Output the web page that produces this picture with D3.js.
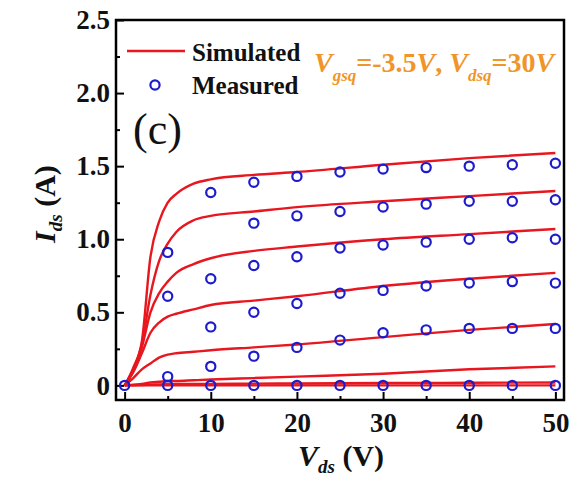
<!DOCTYPE html>
<html>
<head>
<meta charset="utf-8">
<script src="https://cdn.jsdelivr.net/npm/d3@7"></script>
<style>
  html, body { margin: 0; padding: 0; background: #fff; }
  svg { display: block; font-family: "Liberation Serif", "Times New Roman", serif; }
</style>
</head>
<body>
<svg id="chart" width="579" height="478"></svg>
<script>
// measured points, Vds = 0..50 step 5 (null = hidden / not readable)
const vdsMeas = [0, 5, 10, 15, 20, 25, 30, 35, 40, 45, 50];
const meas1 = [0, 0.91, 1.32, 1.39, 1.43, 1.46, 1.48, 1.49, 1.50, 1.51, 1.52];
const meas2 = [null, null, null, 1.11, 1.16, 1.19, 1.22, 1.24, 1.26, 1.26, 1.27];
const meas3 = [null, 0.61, 0.73, 0.82, 0.88, 0.94, 0.96, 0.98, 1.00, 1.01, 1.00];
const meas4 = [null, null, 0.40, 0.50, 0.56, 0.63, 0.65, 0.68, 0.70, 0.71, 0.70];
const meas5 = [null, 0.06, 0.13, 0.20, 0.26, 0.31, 0.36, 0.38, 0.39, 0.39, 0.39];
const meas6 = [null, 0, 0, 0, 0, 0, 0, 0, 0, 0, 0];

// simulated curves
const vdsSim = [0, 1, 2, 3, 4, 5, 6, 8, 10, 15, 20, 30, 40, 50];
const sim1 = [0, 0.12, 0.30, 0.88, 1.12, 1.25, 1.31, 1.38, 1.41, 1.44, 1.46, 1.51, 1.555, 1.59];
const sim2 = [0, 0.11, 0.28, 0.62, 0.85, 0.97, 1.05, 1.13, 1.16, 1.19, 1.22, 1.26, 1.295, 1.33];
const sim3 = [0, 0.10, 0.26, 0.50, 0.63, 0.71, 0.77, 0.83, 0.87, 0.92, 0.95, 1.00, 1.035, 1.07];
const sim4 = [0, 0.09, 0.22, 0.36, 0.43, 0.47, 0.49, 0.52, 0.55, 0.58, 0.61, 0.68, 0.73, 0.77];
const sim5 = [0, 0.05, 0.11, 0.15, 0.19, 0.21, 0.22, 0.23, 0.24, 0.26, 0.28, 0.33, 0.38, 0.42];
const sim6 = [0, 0.005, 0.01, 0.02, 0.025, 0.03, 0.03, 0.035, 0.04, 0.05, 0.06, 0.08, 0.11, 0.13];
const sim7 = [0, 0, 0.003, 0.005, 0.007, 0.008, 0.009, 0.01, 0.01, 0.012, 0.013, 0.016, 0.018, 0.02];
const sim8 = [0, 0, 0, 0, 0, 0, 0, 0, 0, 0, 0, 0, 0, 0];

const xTicks = [0, 10, 20, 30, 40, 50];
const xMinor = [5, 15, 25, 35, 45];
const yTicks = [0, 0.5, 1.0, 1.5, 2.0, 2.5];
const yMinor = [0.25, 0.75, 1.25, 1.75, 2.25];

const svg = d3.select('#chart');
const plotL = 116, plotR = 564, plotT = 20, plotB = 400;
const red = '#e8161e', blue = '#1c1ccc', orange = '#f0952a';

const x = d3.scaleLinear().domain([-1, 51]).range([plotL, plotR]);
const y = d3.scaleLinear().domain([-0.1, 2.5]).range([plotB, plotT]);

// axes (ticks inward)
svg.append('g').attr('transform', `translate(0,${plotB})`)
  .call(d3.axisBottom(x).tickValues(xTicks).tickSizeInner(-8).tickSizeOuter(0).tickPadding(13).tickFormat(d3.format('d')));
svg.append('g').attr('transform', `translate(0,${plotB})`)
  .call(d3.axisBottom(x).tickValues(xMinor).tickSizeInner(-4).tickSizeOuter(0).tickFormat(''));
svg.append('g').attr('transform', `translate(${plotL},0)`)
  .call(d3.axisLeft(y).tickValues(yTicks).tickSizeInner(-8).tickSizeOuter(0).tickPadding(6)
    .tickFormat(d => d === 0 ? '0' : d3.format('.1f')(d)));
svg.append('g').attr('transform', `translate(${plotL},0)`)
  .call(d3.axisLeft(y).tickValues(yMinor).tickSizeInner(-4).tickSizeOuter(0).tickFormat(''));

svg.selectAll('.domain').remove();
svg.selectAll('.tick line').attr('stroke', '#000').attr('stroke-width', 2);
svg.selectAll('.tick text')
  .attr('fill', '#111')
  .style('font-family', '"Liberation Serif", serif')
  .style('font-weight', 'bold')
  .style('font-size', '27px');

svg.append('rect')
  .attr('x', plotL).attr('y', plotT)
  .attr('width', plotR - plotL).attr('height', plotB - plotT)
  .attr('fill', 'none').attr('stroke', '#000').attr('stroke-width', 2.5);

// simulated lines
const sims = [sim1, sim2, sim3, sim4, sim5, sim6, sim7, sim8];
const line = d3.line()
  .x((d, i) => x(vdsSim[i]))
  .y(d => y(d))
  .curve(d3.curveMonotoneX);

svg.append('g').selectAll('path')
  .data(sims)
  .join('path')
  .attr('d', line)
  .attr('fill', 'none')
  .attr('stroke', red)
  .attr('stroke-width', 2.4);

// measured circles
const meas = [meas1, meas2, meas3, meas4, meas5, meas6];
const pts = [];
meas.forEach(s => s.forEach((v, i) => { if (v != null) pts.push([vdsMeas[i], v]); }));

svg.append('g').selectAll('circle')
  .data(pts)
  .join('circle')
  .attr('cx', d => x(d[0]))
  .attr('cy', d => y(d[1]))
  .attr('r', 4.6)
  .attr('fill', 'none')
  .attr('stroke', blue)
  .attr('stroke-width', 2.2);

// legend
svg.append('line')
  .attr('x1', 127).attr('x2', 185).attr('y1', 51).attr('y2', 51)
  .attr('stroke', red).attr('stroke-width', 2.4);
svg.append('circle')
  .attr('cx', 155).attr('cy', 85).attr('r', 4.6)
  .attr('fill', 'none').attr('stroke', blue).attr('stroke-width', 2.2);
svg.append('text').attr('x', 192).attr('y', 61)
  .attr('font-size', 25).attr('font-weight', 'bold').attr('fill', '#111')
  .text('Simulated');
svg.append('text').attr('x', 192).attr('y', 94)
  .attr('font-size', 25).attr('font-weight', 'bold').attr('fill', '#111')
  .text('Measured');

// panel label
svg.append('text').attr('x', 133).attr('y', 144)
  .attr('font-size', 44).attr('fill', '#111')
  .text('(c)');

// bias condition
const cond = svg.append('text').attr('x', 314).attr('y', 72)
  .attr('font-size', 28).attr('font-weight', 'bold').attr('fill', orange);
cond.append('tspan').attr('font-style', 'italic').text('V');
cond.append('tspan').attr('font-style', 'italic').attr('font-size', 17).attr('dy', 9).text('gsq');
cond.append('tspan').attr('dy', -9).text('=-3.5');
cond.append('tspan').attr('font-style', 'italic').text('V');
cond.append('tspan').text(', ');
cond.append('tspan').attr('font-style', 'italic').text('V');
cond.append('tspan').attr('font-style', 'italic').attr('font-size', 17).attr('dy', 9).text('dsq');
cond.append('tspan').attr('dy', -9).text('=30');
cond.append('tspan').attr('font-style', 'italic').text('V');

// axis titles
const xt = svg.append('text').attr('x', 341).attr('y', 466)
  .attr('text-anchor', 'middle').attr('font-size', 30).attr('font-weight', 'bold').attr('fill', '#111');
xt.append('tspan').attr('font-style', 'italic').text('V');
xt.append('tspan').attr('font-style', 'italic').attr('font-size', 19).attr('dy', 7).text('ds');
xt.append('tspan').attr('dy', -7).text(' (V)');

const yt = svg.append('text').attr('transform', 'translate(55,204) rotate(-90)')
  .attr('text-anchor', 'middle').attr('font-size', 30).attr('font-weight', 'bold').attr('fill', '#111');
yt.append('tspan').attr('font-style', 'italic').text('I');
yt.append('tspan').attr('font-style', 'italic').attr('font-size', 19).attr('dy', 7).text('ds');
yt.append('tspan').attr('dy', -7).text(' (A)');
</script>
</body>
</html>
